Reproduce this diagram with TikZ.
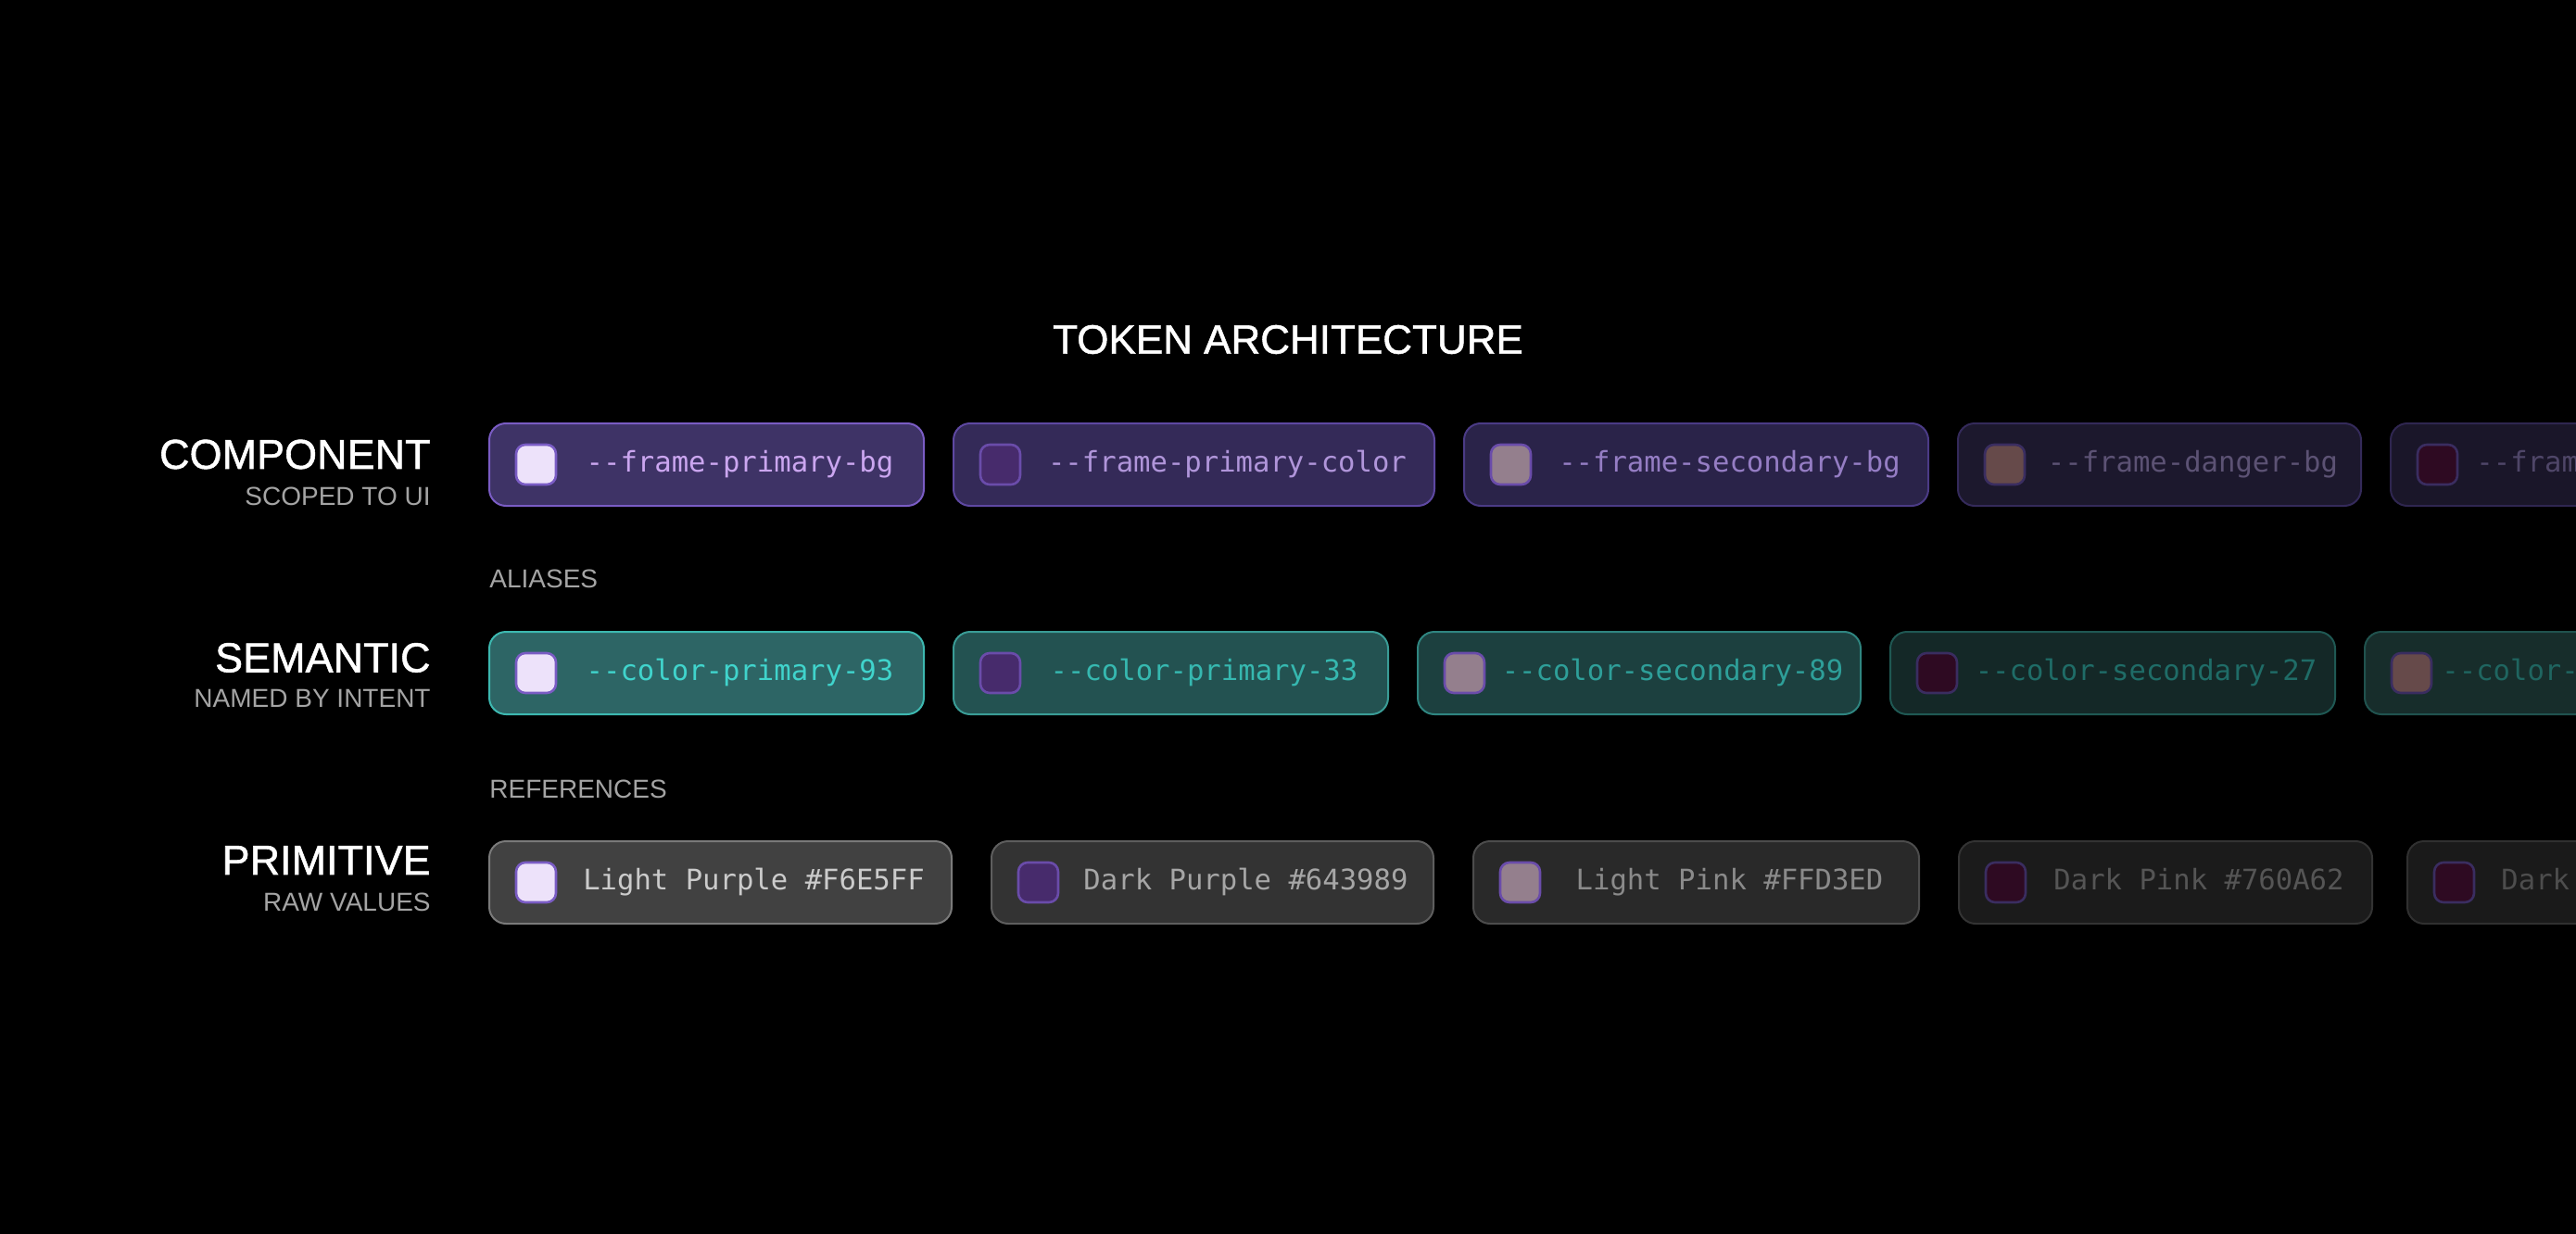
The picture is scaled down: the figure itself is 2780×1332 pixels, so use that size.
\documentclass[tikz,border=0pt]{standalone}
\usepackage{fontspec}
\setmainfont{Liberation Sans}
\setmonofont{DejaVu Sans Mono}
\newfontfamily\labelfont{Liberation Sans}[BoldFont={Liberation Sans}, BoldFeatures={FakeBold=1.2}]
\usepackage{xcolor}
\usepackage{tikz}
\usetikzlibrary{positioning, calc}

% component layer (purple)
\definecolor{compfillA}{HTML}{3E3366}\definecolor{complineA}{HTML}{7A5CC4}\definecolor{comptextA}{HTML}{CBA6F0}
\definecolor{compfillB}{HTML}{342A58}\definecolor{complineB}{HTML}{5E48A2}\definecolor{comptextB}{HTML}{B095DA}
\definecolor{compfillC}{HTML}{2A2349}\definecolor{complineC}{HTML}{4B3B86}\definecolor{comptextC}{HTML}{957DC4}
\definecolor{compfillD}{HTML}{1C182D}\definecolor{complineD}{HTML}{342A5A}\definecolor{comptextD}{HTML}{5C5274}
\definecolor{compfillE}{HTML}{1A1629}\definecolor{complineE}{HTML}{2F2650}\definecolor{comptextE}{HTML}{4F4668}
% semantic layer (teal)
\definecolor{semfillA}{HTML}{2D6565}\definecolor{semlineA}{HTML}{3DB8B0}\definecolor{semtextA}{HTML}{40D4CC}
\definecolor{semfillB}{HTML}{235251}\definecolor{semlineB}{HTML}{3A9C96}\definecolor{semtextB}{HTML}{36B8B0}
\definecolor{semfillC}{HTML}{1C403F}\definecolor{semlineC}{HTML}{2F8580}\definecolor{semtextC}{HTML}{2E9F99}
\definecolor{semfillD}{HTML}{142827}\definecolor{semlineD}{HTML}{1F5853}\definecolor{semtextD}{HTML}{1F6C67}
\definecolor{semfillE}{HTML}{172D2B}\definecolor{semlineE}{HTML}{20524E}\definecolor{semtextE}{HTML}{1F6560}
% primitive layer (grey)
\definecolor{primfillA}{HTML}{414141}\definecolor{primlineA}{HTML}{7A7A7A}\definecolor{primtextA}{HTML}{CBCBCB}
\definecolor{primfillB}{HTML}{333333}\definecolor{primlineB}{HTML}{5E5E5E}\definecolor{primtextB}{HTML}{A6A6A6}
\definecolor{primfillC}{HTML}{292929}\definecolor{primlineC}{HTML}{4C4C4C}\definecolor{primtextC}{HTML}{8A8A8A}
\definecolor{primfillD}{HTML}{1B1B1B}\definecolor{primlineD}{HTML}{333333}\definecolor{primtextD}{HTML}{555555}
\definecolor{primfillE}{HTML}{1A1A1A}\definecolor{primlineE}{HTML}{303030}\definecolor{primtextE}{HTML}{4D4D4D}
% swatches
\definecolor{lightpurple}{HTML}{EDE2FA}
\definecolor{darkpurple}{HTML}{472B6C}
\definecolor{lightpink}{HTML}{947F8D}
\definecolor{peach}{HTML}{664A4A}
\definecolor{darkpink}{HTML}{2E0A22}
\definecolor{swlineA}{HTML}{7A5CC4}
\definecolor{swlineB}{HTML}{6A4CAA}
\definecolor{swlineC}{HTML}{3A2D60}
\definecolor{subgrey}{HTML}{A4A4A4}

\begin{document}
\begin{tikzpicture}[
    x=0.5pt, y=-0.5pt,
    tokbox/.style={rectangle, draw, line width=1pt, rounded corners=9pt,
                   minimum height=44.5pt, inner sep=0pt, outer sep=0pt},
    swatch/.style={rectangle, draw, line width=1.3pt, rounded corners=5pt,
                   minimum size=21.5pt, inner sep=0pt, outer sep=0pt},
    tokentext/.style={font=\ttfamily\fontsize{15.3}{18}\selectfont, inner sep=0pt,
                      text height=11.3pt, text depth=3.1pt},
    heading/.style={font=\labelfont\bfseries\fontsize{22}{26}\selectfont, text=white, inner sep=0pt},
    layer/.style={font=\labelfont\bfseries\fontsize{22.5}{26}\selectfont, text=white, inner sep=0pt, anchor=east},
    layersub/.style={font=\fontsize{14}{16}\selectfont, text=subgrey, inner sep=0pt},
    relation/.style={font=\fontsize{14}{16}\selectfont, text=subgrey, inner sep=0pt},
]
    \path[fill=black, use as bounding box] (0,0) rectangle (2780,1332);
    \clip (0,0) rectangle (2780,1332);

    % Heading
    \node[heading] (head) at (1390,366.5) {TOKEN ARCHITECTURE};

    % Component layer
    \node[layer] (comp) at (465,490.5) {COMPONENT};
    \node[layersub, below left=9.5pt and 0pt of comp.south east] (compsub) {SCOPED TO UI};

    \node[tokbox, fill=compfillA, draw=complineA, minimum width=234.5pt, anchor=west] (comp1) at (528,501.5) {};
    \node[tokbox, fill=compfillB, draw=complineB, minimum width=259.5pt, right=16pt of comp1] (comp2) {};
    \node[tokbox, fill=compfillC, draw=complineC, minimum width=250.5pt, right=16pt of comp2] (comp3) {};
    \node[tokbox, fill=compfillD, draw=complineD, minimum width=217.5pt, right=16pt of comp3] (comp4) {};
    \node[tokbox, fill=compfillE, draw=complineE, minimum width=220pt, right=16pt of comp4] (comp5) {};

    \node[swatch, fill=lightpurple, draw=swlineA, right=14.5pt of comp1.west] (comp1sw) {};
    \node[swatch, fill=darkpurple, draw=swlineB, right=14.5pt of comp2.west] (comp2sw) {};
    \node[swatch, fill=lightpink, draw=swlineB, right=14.5pt of comp3.west] (comp3sw) {};
    \node[swatch, fill=peach, draw=swlineC, right=14.5pt of comp4.west] (comp4sw) {};
    \node[swatch, fill=darkpink, draw=swlineC, right=14.5pt of comp5.west] (comp5sw) {};

    \node[tokentext, text=comptextA] (comp1txt) at ($(comp1sw.east)!.5!(comp1.east)$) {-{}-frame-primary-bg};
    \node[tokentext, text=comptextB] (comp2txt) at ($(comp2sw.east)!.5!(comp2.east)$) {-{}-frame-primary-color};
    \node[tokentext, text=comptextC] (comp3txt) at ($(comp3sw.east)!.5!(comp3.east)$) {-{}-frame-secondary-bg};
    \node[tokentext, text=comptextD] (comp4txt) at ($(comp4sw.east)!.5!(comp4.east)$) {-{}-frame-danger-bg};
    \node[tokentext, text=comptextE, right=10pt of comp5sw] (comp5txt) {-{}-frame};

    % Semantic layer
    \node[layer] (sem) at (465,710) {SEMANTIC};
    \node[layersub, below left=9pt and 0pt of sem.south east] (semsub) {NAMED BY INTENT};

    \node[tokbox, fill=semfillA, draw=semlineA, minimum width=234.5pt, anchor=west] (sem1) at (528,726.5) {};
    \node[tokbox, fill=semfillB, draw=semlineB, minimum width=234.5pt, right=16pt of sem1] (sem2) {};
    \node[tokbox, fill=semfillC, draw=semlineC, minimum width=239pt, right=16pt of sem2] (sem3) {};
    \node[tokbox, fill=semfillD, draw=semlineD, minimum width=240pt, right=16pt of sem3] (sem4) {};
    \node[tokbox, fill=semfillE, draw=semlineE, minimum width=220pt, right=16pt of sem4] (sem5) {};
    \node[relation, above right=23.5pt and 0pt of sem1.north west] (alias) {ALIASES};

    \node[swatch, fill=lightpurple, draw=swlineA, right=14.5pt of sem1.west] (sem1sw) {};
    \node[swatch, fill=darkpurple, draw=swlineB, right=14.5pt of sem2.west] (sem2sw) {};
    \node[swatch, fill=lightpink, draw=swlineB, right=14.5pt of sem3.west] (sem3sw) {};
    \node[swatch, fill=darkpink, draw=swlineC, right=14.5pt of sem4.west] (sem4sw) {};
    \node[swatch, fill=peach, draw=swlineC, right=14.5pt of sem5.west] (sem5sw) {};

    \node[tokentext, text=semtextA] (sem1txt) at ($(sem1sw.east)!.5!(sem1.east)$) {-{}-color-primary-93};
    \node[tokentext, text=semtextB] (sem2txt) at ($(sem2sw.east)!.5!(sem2.east)$) {-{}-color-primary-33};
    \node[tokentext, text=semtextC] (sem3txt) at ($(sem3sw.east)!.5!(sem3.east)$) {-{}-color-secondary-89};
    \node[tokentext, text=semtextD] (sem4txt) at ($(sem4sw.east)!.5!(sem4.east)$) {-{}-color-secondary-27};
    \node[tokentext, text=semtextE, right=5.5pt of sem5sw] (sem5txt) {-{}-color-};

    % Primitive layer
    \node[layer] (prim) at (465,928.5) {PRIMITIVE};
    \node[layersub, below left=9.5pt and 0pt of prim.south east] (primsub) {RAW VALUES};

    \node[tokbox, fill=primfillA, draw=primlineA, minimum width=249.5pt, anchor=west] (prim1) at (528,952.5) {};
    \node[tokbox, fill=primfillB, draw=primlineB, minimum width=238.5pt, right=21.5pt of prim1] (prim2) {};
    \node[tokbox, fill=primfillC, draw=primlineC, minimum width=240.5pt, right=21.5pt of prim2] (prim3) {};
    \node[tokbox, fill=primfillD, draw=primlineD, minimum width=223pt, right=21.5pt of prim3] (prim4) {};
    \node[tokbox, fill=primfillE, draw=primlineE, minimum width=220pt, right=19pt of prim4] (prim5) {};
    \node[relation, above right=23pt and 0pt of prim1.north west] (refs) {REFERENCES};

    \node[swatch, fill=lightpurple, draw=swlineA, right=14.5pt of prim1.west] (prim1sw) {};
    \node[swatch, fill=darkpurple, draw=swlineB, right=14.5pt of prim2.west] (prim2sw) {};
    \node[swatch, fill=lightpink, draw=swlineB, right=14.5pt of prim3.west] (prim3sw) {};
    \node[swatch, fill=darkpink, draw=swlineC, right=14.5pt of prim4.west] (prim4sw) {};
    \node[swatch, fill=darkpink, draw=swlineC, right=14.5pt of prim5.west] (prim5sw) {};

    \node[tokentext, text=primtextA] (prim1txt) at ($(prim1sw.east)!.5!(prim1.east)$) {Light Purple \#F6E5FF};
    \node[tokentext, text=primtextB] (prim2txt) at ($(prim2sw.east)!.5!(prim2.east)$) {Dark Purple \#643989};
    \node[tokentext, text=primtextC] (prim3txt) at ($(prim3sw.east)!.5!(prim3.east)$) {Light Pink \#FFD3ED};
    \node[tokentext, text=primtextD] (prim4txt) at ($(prim4sw.east)!.5!(prim4.east)$) {Dark Pink \#760A62};
    \node[tokentext, text=primtextE, right=14.5pt of prim5sw] (prim5txt) {Dark};
\end{tikzpicture}
\end{document}
